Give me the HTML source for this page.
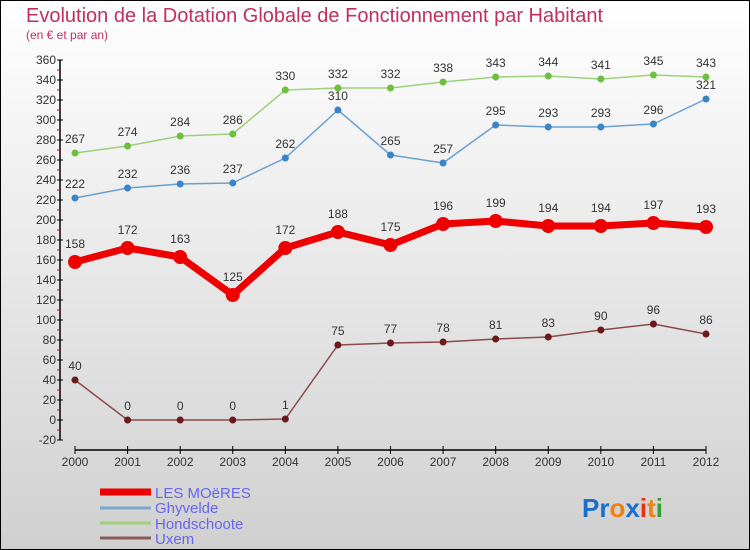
<!DOCTYPE html>
<html><head><meta charset="utf-8"><style>
body{margin:0}
#c{width:750px;height:550px;position:relative;overflow:hidden;box-sizing:border-box;border:1px solid #000;background:linear-gradient(#ffffff,#d0d0d0);font-family:"Liberation Sans",sans-serif}
</style></head><body>
<div id="c">
<svg id="s" width="750" height="550" style="position:absolute;left:-1px;top:-1px">
<text x="26" y="22" font-size="20" fill="#c0305a">Evolution de la Dotation Globale de Fonctionnement par Habitant</text>
<text x="26" y="39" font-size="12" fill="#c0305a">(en € et par an)</text>
<g id="axes"></g><g id="series"></g>
<g>
<line x1="100" y1="492" x2="151" y2="492" stroke="#ee0000" stroke-width="7"/>
<text x="155" y="498" font-size="15" fill="#6666ee">LES MOëRES</text>
<line x1="100" y1="508" x2="151" y2="508" stroke="#7aa8cc" stroke-width="3"/>
<text x="155" y="513" font-size="15" fill="#6666ee">Ghyvelde</text>
<line x1="100" y1="523" x2="151" y2="523" stroke="#9ed07e" stroke-width="3"/>
<text x="155" y="529" font-size="15" fill="#6666ee">Hondschoote</text>
<line x1="100" y1="538" x2="151" y2="538" stroke="#8a5a5a" stroke-width="3"/>
<text x="155" y="544" font-size="15" fill="#6666ee">Uxem</text>
</g>
<text x="582" y="517" font-size="26" font-weight="bold"><tspan fill="#1a6fcc">Pr</tspan><tspan fill="#f08010">o</tspan><tspan fill="#1a6fcc">x</tspan><tspan fill="#e83010">i</tspan><tspan fill="#f08010">t</tspan><tspan fill="#30a030">i</tspan></text>
</svg></div>
<script>
const years=["2000","2001","2002","2003","2004","2005","2006","2007","2008","2009","2010","2011","2012"];
const moeres=[158,172,163,125,172,188,175,196,199,194,194,197,193];
const ghyvelde=[222,232,236,237,262,310,265,257,295,293,293,296,321];
const hondschoote=[267,274,284,286,330,332,332,338,343,344,341,345,343];
const uxem=[40,0,0,0,1,75,77,78,81,83,90,96,86];
const yTicks=[-20,0,20,40,60,80,100,120,140,160,180,200,220,240,260,280,300,320,340,360];
const NS="http://www.w3.org/2000/svg";
const X=i=>75+i*(706-75)/12, Y=v=>420-v;
function mk(tag,at,parent){const e=document.createElementNS(NS,tag);for(const k in at)e.setAttribute(k,at[k]);parent.appendChild(e);return e;}
const ax=document.getElementById('axes'), sg=document.getElementById('series');
let yl=mk('line',{x1:60,y1:Y(360),x2:60,y2:Y(-20),stroke:'#000','stroke-width':1.5},ax);


yTicks.forEach(v=>{
 const t=mk('line',{x1:57,y1:Y(v),x2:63,y2:Y(v),stroke:'#000'},ax);
 
 
 if(v<360){
 const m=mk('line',{x1:57,y1:Y(v)-10,x2:60,y2:Y(v)-10,stroke:'#e00'},ax);
 
 
 }
 const l=mk('text',{x:56,y:Y(v)+4,'font-size':12,fill:'#333','text-anchor':'end'},ax);
 l.textContent=v;
 
 
});
let xl=mk('line',{x1:75,y1:450,x2:706,y2:450,stroke:'#000','stroke-width':1.5},ax);


years.forEach((y,i)=>{
 const t=mk('line',{x1:X(i),y1:446,x2:X(i),y2:454,stroke:'#000'},ax);
 
 
 const l=mk('text',{x:X(i),y:466,'font-size':12,fill:'#333','text-anchor':'middle'},ax);
 l.textContent=y;
 
 
});
function series(name,vals,color,dot,w,r,off){
 const g=mk('g',{},sg);
 
 
 const p=mk('polyline',{points:vals.map((v,i)=>X(i)+','+Y(v)).join(' '),fill:'none',stroke:color,'stroke-width':w,'stroke-linejoin':'round'},g);
 
 
 vals.forEach((v,i)=>{
  const c=mk('circle',{cx:X(i),cy:Y(v),r:r,fill:dot},g);
  
  
  const t=mk('text',{x:X(i),y:Y(v)-off,'font-size':12,fill:'#333','text-anchor':'middle'},g);
  t.textContent=v;
  
  
 });
}
series('hondschoote',hondschoote,'#9ed07e','#6cc040',1.5,3.5,10);
series('ghyvelde',ghyvelde,'#6aa0d0','#3a84c8',1.5,3.5,10);
series('uxem',uxem,'#8a4a4a','#6a1a1a',1.5,3.5,10);
series('les-moeres',moeres,'#ee0000','#ee0000',7,7,14);
</script>
</body></html>
